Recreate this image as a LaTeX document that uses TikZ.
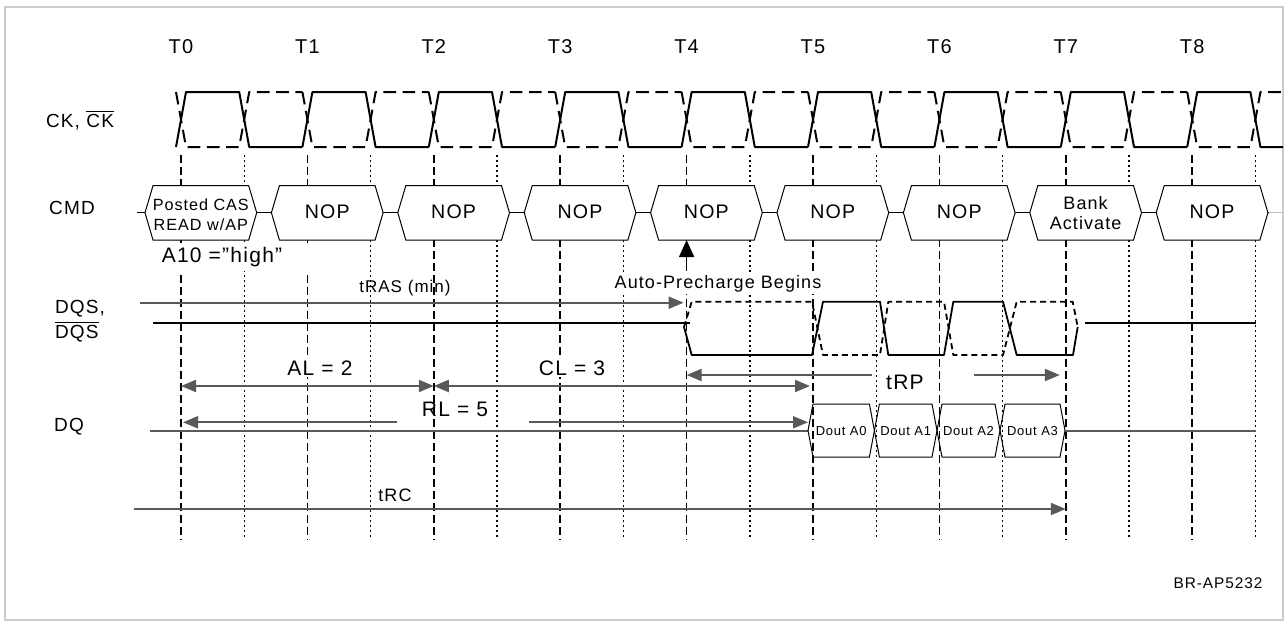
\documentclass[tikz,border=0pt]{standalone}
\usepackage{amsmath}
\usepackage{fontspec}
\setmainfont{Liberation Sans}[LetterSpace=6]
\usepackage{tikz}
\usetikzlibrary{arrows.meta, calc}
\definecolor{setacinza}{HTML}{595959}
\tikzset{
  tempo/.style={font=\fontsize{10}{12}\selectfont},
  sinal/.style={font=\fontsize{9.5}{12.5}\selectfont, align=left},
  grade/.style={line width=0.85pt, dash pattern=on 4pt off 2pt},
  meia/.style={line width=0.7pt, dash pattern=on 1pt off 1.5pt},
  relogio/.style={line width=1pt, line join=round},
  dqsl/.style={line width=0.9pt, line join=round},
  cmdcaixa/.style={line width=0.5pt, fill=white},
  cmdtexto/.style={font=\fontsize{9.8}{11}\selectfont, align=center, inner sep=0pt},
  cota/.style={setacinza, line width=1pt},
  rotulo/.style={font=\fontsize{10.5}{12}\selectfont, inner sep=1pt},
}

\begin{document}
\begin{tikzpicture}[x=0.5pt, y=-0.5pt, >={Triangle[length=7.5pt, width=6pt]}]
  \useasboundingbox (0,0) rectangle (1285,621);
  \draw[black!20, line width=0.6pt] (5,7) rectangle (1283,620);
  % instantes T0..T8 e linhas de grade
  \foreach \i in {0,...,8}{
    \coordinate (T\i) at (181+126.4*\i, 0);
    \node[tempo] (t\i) at (181+126.4*\i, 47) {T\i};
    \draw[grade] (181+126.4*\i, 155) -- (181+126.4*\i, 540);
    \draw[meia] (244.2+126.4*\i, 155) -- (244.2+126.4*\i, 537);
  }
  % nomes dos sinais
  \node[sinal] (ck) at (80,120) {CK, $\overline{\text{CK}}$};
  \node[sinal] (cmd) at (72,208) {CMD};
  \node[sinal, anchor=west] (dqs) at (48,321) {DQS,\\$\overline{\text{DQS}}$};
  \node[sinal] (dq) at (69,427) {DQ};
  % relogio diferencial
  \begin{scope}
    \clip (0,0) rectangle (1283,621);
    \foreach \i in {0,...,8}{
      \pgfmathsetmacro\c{181+126.4*\i}
      \draw[relogio] (\c-5,147) -- (\c+5,92) -- (\c+58.2,92) -- (\c+68.2,147) -- (\c+121.4,147);
      \draw[relogio, dash pattern=on 6.3pt off 3.3pt] (\c-5,92) -- (\c+5,147) -- (\c+58.2,147) -- (\c+68.2,92) -- (\c+121.4,92);
    }
  \end{scope}
  % barramento CMD
  \draw[line width=0.5pt] (136.7,212.7) -- (1269,212.7);
  \draw[black!25, line width=0.5pt] (1269,212.7) -- (1283,212.7);
  \foreach \i in {0,...,8}{
    \pgfmathsetmacro\a{145+126.4*\i}
    \draw[cmdcaixa] (\a,212.7) -- (\a+8,185.7) -- (\a+103.7,185.7) -- (\a+111.7,212.7) -- (\a+103.7,240) -- (\a+8,240) -- cycle;
    \coordinate (h\i) at (\a+55.8,240);
  }
  \node[cmdtexto, font=\fontsize{8.1}{10}\selectfont] (c0) at (200.8,215) {Posted CAS\\READ w/AP};
  \foreach \i in {1,...,6,8}
    \node[cmdtexto] (c\i) at (200.8+126.4*\i,212) {NOP};
  \node[cmdtexto, font=\fontsize{9}{10}\selectfont] (c7) at (200.8+126.4*7,213) {Bank\\Activate};
  \node[rotulo, fill=white, minimum width=88pt, minimum height=14pt] (a10) at (222,257) {A10 ="high"};
  % auto-precharge
  \node[font=\fontsize{9}{11}\selectfont, fill=white, inner sep=1pt] (apre) at (718,284) {Auto-Precharge Begins};
  \draw[->, >={Triangle[length=8.5pt, width=7.5pt]}, line width=0.8pt, shorten <=4pt] (apre.north -| T4) -- (h4 -| T4);
  % DQS
  \draw[dqsl] (153,322.7) -- (690,322.7);
  \draw[dqsl] (684,327) -- (691.7,355) -- (812,355) -- (823,301.7) -- (880,301.7) -- (888.3,355) -- (944,355) -- (953.3,301.7) -- (1003,301.7) -- (1016.7,355) -- (1073,355) -- (1077.7,327);
  \draw[dqsl, dash pattern=on 3pt off 2pt] (684,327) -- (691.7,301.7) -- (812,301.7) -- (823,355) -- (880,355) -- (888.3,301.7) -- (944,301.7) -- (953.3,355) -- (1003,355) -- (1016.7,301.7) -- (1072.7,301.7) -- (1077.7,327);
  \draw[dqsl] (1085,322.7) -- (1256,322.7);
  % DQ e dados
  \draw[cota] (150,430.7) -- (808,430.7);
  \foreach \a/\b/\d in {808/874.4/A0, 874.4/937/A1, 937/1000/A2, 1000/1065/A3}{
    \draw[line width=0.5pt] (\a,430.5) -- (\a+5,404) -- (\b-5,404) -- (\b,430.5) -- (\b-5,457) -- (\a+5,457) -- cycle;
    \node[font=\fontsize{6.5}{8}\selectfont] (d\d) at ({(\a+\b)/2},431) {Dout \d};
  }
  \draw[cota] (1065,430.7) -- (1256,430.7);
  % cotas de tempo
  \coordinate (ras) at (140,302.7);
  \coordinate (linha-al) at (0,386);
  \coordinate (linha-rp) at (0,375);
  \coordinate (linha-rl) at (0,422.3);
  \coordinate (rc) at (134,509);
  \node[font=\fontsize{8.5}{10}\selectfont] (tras) at (405,288) {tRAS (min)};
  \node[rotulo, fill=white, inner xsep=8pt] (al) at (320,368) {AL = 2};
  \node[rotulo, fill=white, inner xsep=8pt] (cl) at (572,368) {CL = 3};
  \node[rotulo] (trp) at (905,382) {tRP};
  \node[rotulo] (rl) at (455,409) {RL = 5};
  \node[font=\fontsize{9}{11}\selectfont] (trc) at (395,495) {tRC};
  \draw[cota, ->, shorten >=1.5pt] (ras) -- (ras -| T4);
  \draw[cota, <->] (T0 |- linha-al) -- (T2 |- linha-al);
  \draw[cota, <->, shorten >=1.5pt] (T2 |- linha-al) -- (T5 |- linha-al);
  \draw[cota, <-] (T4 |- linha-rp) -- ([xshift=-6pt]trp.west |- linha-rp);
  \draw[cota, ->] ([xshift=24pt]trp.east |- linha-rp) -- ([xshift=-3pt]T7 |- linha-rp);
  \draw[cota, <-] ([xshift=1pt]T0 |- linha-rl) -- ([xshift=-11pt]rl.west |- linha-rl);
  \draw[cota, ->] ([xshift=19pt]rl.east |- linha-rl) -- ([xshift=-2.5pt]T5 |- linha-rl);
  \draw[cota, ->] (rc) -- (rc -| T7);
  \node[font=\fontsize{7.7}{9}\selectfont] (ref) at (1218,583) {BR-AP5232};
\end{tikzpicture}
\end{document}
